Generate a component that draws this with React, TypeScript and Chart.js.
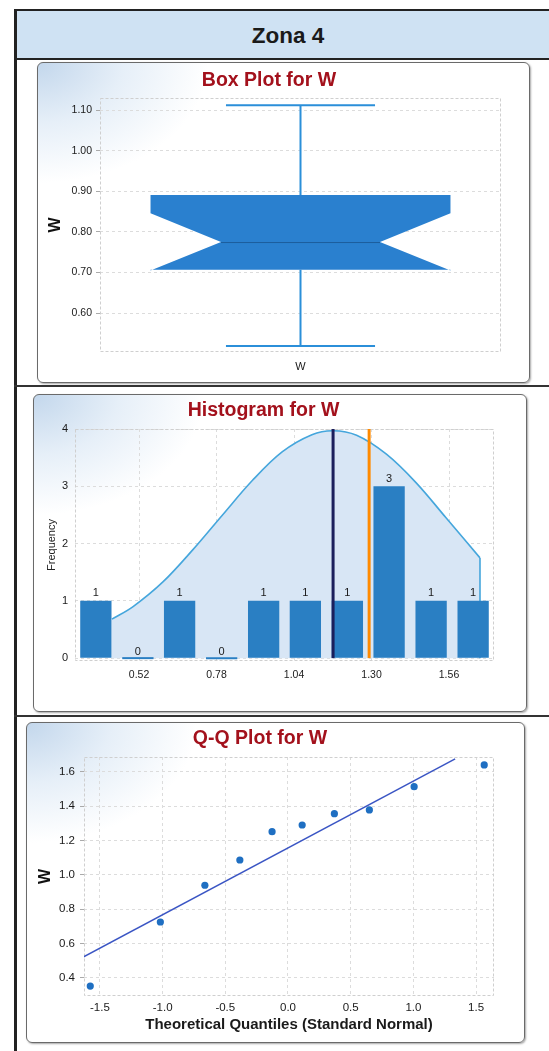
import React, { useEffect, useRef } from "react";
import { Chart, registerables } from "chart.js";

Chart.register(...registerables);

// ---------- Page ----------
const PAGE_TITLE = "Zona 4";

// ---------- Box plot data ----------
const BOX_TITLE = "Box Plot for W";
const BOX_CATEGORIES = ["W"];
const BOX_MIN = [0.519];
const BOX_Q1 = [0.707];
const BOX_MEDIAN = [0.775];
const BOX_Q3 = [0.891];
const BOX_MAX = [1.112];
const BOX_NOTCH_LOW = [0.705];
const BOX_NOTCH_HIGH = [0.846];
const BOX_Y_TICKS = [0.6, 0.7, 0.8, 0.9, 1.0, 1.1];

// ---------- Histogram data ----------
const HIST_TITLE = "Histogram for W";
const HIST_BIN_CENTERS = [0.375, 0.516, 0.656, 0.797, 0.938, 1.078, 1.219, 1.359, 1.5, 1.641];
const HIST_COUNTS = [1, 0, 1, 0, 1, 1, 1, 3, 1, 1];
const HIST_X_TICKS = [0.52, 0.78, 1.04, 1.3, 1.56];
const HIST_Y_TICKS = [0, 1, 2, 3, 4];
const HIST_CURVE_X = [0.429, 0.5, 0.6, 0.7, 0.8, 0.9, 1.0, 1.1, 1.171, 1.25, 1.35, 1.45, 1.55, 1.664];
const HIST_CURVE_Y = [0.68, 0.9, 1.33, 1.89, 2.5, 3.1, 3.6, 3.9, 3.97, 3.89, 3.56, 3.06, 2.45, 1.75];
const HIST_MEAN = [1.171];
const HIST_MEDIAN = [1.292];

// ---------- Q-Q data ----------
const QQ_TITLE = "Q-Q Plot for W";
const QQ_THEORETICAL = [-1.577, -1.018, -0.663, -0.384, -0.127, 0.113, 0.37, 0.649, 1.006, 1.565];
const QQ_SAMPLE = [0.353, 0.726, 0.94, 1.087, 1.252, 1.291, 1.357, 1.379, 1.514, 1.641];
const QQ_LINE_X = [-1.649, 1.333];
const QQ_LINE_Y = [0.516, 1.676];
const QQ_X_TICKS = [-1.5, -1.0, -0.5, 0.0, 0.5, 1.0, 1.5];
const QQ_Y_TICKS = [0.4, 0.6, 0.8, 1.0, 1.2, 1.4, 1.6];

const FONT = "'Liberation Sans', Arial, sans-serif";
const TITLE_COLOR = "#a3111c";
const TICK_COLOR = "#1a1a1a";
const GRID_COLOR = "#dcdcdc";

const framePlugin = {
  id: "frame",
  beforeDatasetsDraw(chart: any) {
    const { ctx, chartArea } = chart;
    const { left, top, right, bottom } = chartArea;
    ctx.save();
    ctx.strokeStyle = "#cfcfcf";
    ctx.lineWidth = 1;
    ctx.setLineDash([3, 2]);
    ctx.strokeRect(left + 0.5, top + 0.5, right - left - 1, bottom - top - 1);
    ctx.restore();
  },
};

const fixedTicks = (values: number[]) => (scale: any) => {
  scale.ticks = values.map((v) => ({ value: v }));
};

const titleOpts = (text: string, top: number, bottom: number) => ({
  display: true,
  text,
  color: TITLE_COLOR,
  font: { family: FONT, size: 19.5, weight: "bold" as const },
  padding: { top, bottom },
});

// ---------- Box plot ----------
const notchedBoxPlugin = {
  id: "notchedBox",
  afterDatasetsDraw(chart: any) {
    const { ctx } = chart;
    const xs = chart.scales.x;
    const ys = chart.scales.y;
    const slot = xs.width / BOX_CATEGORIES.length;
    const py = (v: number) => ys.getPixelForValue(v);
    BOX_CATEGORIES.forEach((_c, i) => {
      const cx = xs.getPixelForValue(i);
      const half = slot * 0.374;
      const notchHalf = half * 0.53;
      const capHalf = half * 0.497;
      ctx.save();
      // whiskers
      ctx.strokeStyle = "#2b8fd9";
      ctx.lineWidth = 2;
      ctx.beginPath();
      ctx.moveTo(cx, py(BOX_MAX[i]));
      ctx.lineTo(cx, py(BOX_Q3[i]));
      ctx.moveTo(cx, py(BOX_Q1[i]));
      ctx.lineTo(cx, py(BOX_MIN[i]));
      ctx.moveTo(cx - capHalf, py(BOX_MAX[i]));
      ctx.lineTo(cx + capHalf, py(BOX_MAX[i]));
      ctx.moveTo(cx - capHalf, py(BOX_MIN[i]));
      ctx.lineTo(cx + capHalf, py(BOX_MIN[i]));
      ctx.stroke();
      // notched box
      ctx.fillStyle = "#2a80cf";
      ctx.beginPath();
      ctx.moveTo(cx - half, py(BOX_Q3[i]));
      ctx.lineTo(cx + half, py(BOX_Q3[i]));
      ctx.lineTo(cx + half, py(BOX_NOTCH_HIGH[i]));
      ctx.lineTo(cx + notchHalf, py(BOX_MEDIAN[i]));
      ctx.lineTo(cx + half, py(BOX_NOTCH_LOW[i]));
      ctx.lineTo(cx + half, py(BOX_Q1[i]));
      ctx.lineTo(cx - half, py(BOX_Q1[i]));
      ctx.lineTo(cx - half, py(BOX_NOTCH_LOW[i]));
      ctx.lineTo(cx - notchHalf, py(BOX_MEDIAN[i]));
      ctx.lineTo(cx - half, py(BOX_NOTCH_HIGH[i]));
      ctx.closePath();
      ctx.fill();
      // median
      ctx.strokeStyle = "#1c5d9c";
      ctx.lineWidth = 1;
      ctx.beginPath();
      ctx.moveTo(cx - notchHalf, py(BOX_MEDIAN[i]) + 0.5);
      ctx.lineTo(cx + notchHalf, py(BOX_MEDIAN[i]) + 0.5);
      ctx.stroke();
      ctx.restore();
    });
  },
};

function BoxPlot() {
  const ref = useRef<HTMLCanvasElement>(null);
  useEffect(() => {
    const chart = new Chart(ref.current!, {
      type: "bar",
      data: { labels: BOX_CATEGORIES, datasets: [] },
      options: {
        animation: false,
        responsive: false,
        events: [],
        layout: { padding: { left: 0, right: 29, top: 0, bottom: 0 } },
        plugins: {
          legend: { display: false },
          tooltip: { enabled: false },
          title: titleOpts(BOX_TITLE, 7.3, 5.3),
        },
        scales: {
          x: {
            type: "category",
            offset: true,
            grid: { display: false, drawTicks: false },
            border: { display: false },
            ticks: { color: TICK_COLOR, padding: 8, font: { family: FONT, size: 11 } },
            afterFit: (s: any) => { s.height = 31; },
          },
          y: {
            min: 0.504,
            max: 1.13,
            afterBuildTicks: fixedTicks(BOX_Y_TICKS),
            grid: { color: GRID_COLOR, tickLength: 4, tickColor: "#aaa" },
            border: { display: false, dash: [3, 3] },
            ticks: {
              color: TICK_COLOR,
              padding: 4,
              font: { family: FONT, size: 10.5 },
              callback: (v: any) => Number(v).toFixed(2),
            },
            title: {
              display: true,
              text: "W",
              color: "#111",
              font: { family: FONT, size: 16, weight: "bold" },
              padding: { top: 9.4, bottom: 0 },
            },
            afterFit: (s: any) => { s.width = 63; },
          },
        },
      },
      plugins: [framePlugin, notchedBoxPlugin],
    } as any);
    return () => chart.destroy();
  }, []);
  return <canvas ref={ref} width={493} height={321} style={{ position: "absolute", left: 0, top: 0 }} />;
}

// ---------- Histogram ----------
const barLabelPlugin = {
  id: "barLabels",
  afterDatasetsDraw(chart: any) {
    const { ctx } = chart;
    chart.data.datasets.forEach((ds: any, di: number) => {
      if (ds.type !== "bar") return;
      const meta = chart.getDatasetMeta(di);
      ctx.save();
      ctx.fillStyle = "#1a1a1a";
      ctx.font = `11px ${FONT}`;
      ctx.textAlign = "center";
      ctx.textBaseline = "bottom";
      meta.data.forEach((el: any, i: number) => {
        ctx.fillText(String(HIST_COUNTS[i]), el.x, el.y - 2);
      });
      ctx.restore();
    });
  },
};

function Histogram() {
  const ref = useRef<HTMLCanvasElement>(null);
  useEffect(() => {
    const curve = HIST_CURVE_X.map((x, i) => ({ x, y: HIST_CURVE_Y[i] }));
    const last = curve[curve.length - 1];
    const chart = new Chart(ref.current!, {
      type: "bar",
      data: {
        datasets: [
          {
            type: "bar",
            data: HIST_BIN_CENTERS.map((x, i) => ({ x, y: HIST_COUNTS[i] })),
            backgroundColor: "#2a7fc3",
            barPercentage: 0.75,
            categoryPercentage: 1,
            minBarLength: 2,
            order: 1,
          },
          {
            type: "line",
            data: curve,
            borderColor: "#45a6dc",
            borderWidth: 1.6,
            backgroundColor: "#d8e6f5",
            fill: "origin",
            pointRadius: 0,
            tension: 0.35,
            order: 3,
          },
          {
            type: "line",
            data: [{ x: last.x, y: last.y }, { x: last.x, y: 0 }],
            borderColor: "#45a6dc",
            borderWidth: 1.6,
            pointRadius: 0,
            order: 2,
          },
          {
            type: "line",
            data: [{ x: HIST_MEAN[0], y: 0 }, { x: HIST_MEAN[0], y: 4 }],
            borderColor: "#1b1f5c",
            borderWidth: 3,
            pointRadius: 0,
            order: 0,
          },
          {
            type: "line",
            data: [{ x: HIST_MEDIAN[0], y: 0 }, { x: HIST_MEDIAN[0], y: 4 }],
            borderColor: "#ff8a00",
            borderWidth: 3,
            pointRadius: 0,
            order: 0,
          },
        ],
      },
      options: {
        animation: false,
        responsive: false,
        events: [],
        layout: { padding: { left: 0, right: 33, top: 0, bottom: 0 } },
        plugins: {
          legend: { display: false },
          tooltip: { enabled: false },
          title: titleOpts(HIST_TITLE, 5.3, 6.3),
        },
        scales: {
          x: {
            type: "linear",
            offset: false,
            min: 0.305,
            max: 1.711,
            afterBuildTicks: fixedTicks(HIST_X_TICKS),
            grid: { color: GRID_COLOR, drawTicks: false, offset: false },
            border: { display: false, dash: [3, 3] },
            ticks: {
              color: TICK_COLOR,
              padding: 8,
              font: { family: FONT, size: 10.5 },
              callback: (v: any) => Number(v).toFixed(2),
            },
            afterFit: (s: any) => { s.height = 51; },
          },
          y: {
            min: -0.05,
            max: 4,
            afterBuildTicks: fixedTicks(HIST_Y_TICKS),
            grid: { color: GRID_COLOR, drawTicks: false },
            border: { display: false, dash: [3, 3] },
            ticks: { color: TICK_COLOR, padding: 7, font: { family: FONT, size: 11 } },
            title: {
              display: true,
              text: "Frequency",
              color: "#222",
              font: { family: FONT, size: 11 },
              padding: { top: 12.4, bottom: 0 },
            },
            afterFit: (s: any) => { s.width = 42; },
          },
        },
      },
      plugins: [framePlugin, barLabelPlugin],
    } as any);
    return () => chart.destroy();
  }, []);
  return <canvas ref={ref} width={494} height={318} style={{ position: "absolute", left: 0, top: 0 }} />;
}

// ---------- Q-Q plot ----------
function QQPlot() {
  const ref = useRef<HTMLCanvasElement>(null);
  useEffect(() => {
    const chart = new Chart(ref.current!, {
      type: "scatter",
      data: {
        datasets: [
          {
            type: "scatter",
            data: QQ_THEORETICAL.map((x, i) => ({ x, y: QQ_SAMPLE[i] })),
            backgroundColor: "#1f6fc2",
            borderWidth: 0,
            pointRadius: 3.6,
            order: 0,
          },
          {
            type: "line",
            data: QQ_LINE_X.map((x, i) => ({ x, y: QQ_LINE_Y[i] })),
            borderColor: "#3a55c4",
            borderWidth: 1.5,
            pointRadius: 0,
            order: 1,
          },
        ],
      },
      options: {
        animation: false,
        responsive: false,
        events: [],
        layout: { padding: { left: 0, right: 31, top: 0, bottom: 0 } },
        plugins: {
          legend: { display: false },
          tooltip: { enabled: false },
          title: titleOpts(QQ_TITLE, 5.3, 6.3),
        },
        scales: {
          x: {
            type: "linear",
            min: -1.627,
            max: 1.643,
            afterBuildTicks: fixedTicks(QQ_X_TICKS),
            grid: { color: GRID_COLOR, drawTicks: false },
            border: { display: false, dash: [3, 3] },
            ticks: {
              color: TICK_COLOR,
              padding: 5,
              font: { family: FONT, size: 11.5 },
              callback: (v: any) => Number(v).toFixed(1),
            },
            title: {
              display: true,
              text: "Theoretical Quantiles (Standard Normal)",
              color: "#1a1a1a",
              font: { family: FONT, size: 15, weight: "bold" },
              padding: { top: 0, bottom: 9 },
            },
            afterFit: (s: any) => { s.height = 47; },
          },
          y: {
            min: 0.295,
            max: 1.687,
            afterBuildTicks: fixedTicks(QQ_Y_TICKS),
            grid: { color: GRID_COLOR, tickLength: 4, tickColor: "#aaa" },
            border: { display: false, dash: [3, 3] },
            ticks: {
              color: TICK_COLOR,
              padding: 5,
              font: { family: FONT, size: 11.5 },
              callback: (v: any) => Number(v).toFixed(1),
            },
            title: {
              display: true,
              text: "W",
              color: "#111",
              font: { family: FONT, size: 16, weight: "bold" },
              padding: { top: 9.9, bottom: 0 },
            },
            afterFit: (s: any) => { s.width = 58; },
          },
        },
      },
      plugins: [framePlugin],
    } as any);
    return () => chart.destroy();
  }, []);
  return <canvas ref={ref} width={499} height={321} style={{ position: "absolute", left: 0, top: 0 }} />;
}

const cardStyle = (left: number, top: number, width: number, height: number): React.CSSProperties => ({
  position: "absolute",
  left,
  top,
  width,
  height,
  boxSizing: "border-box",
  border: "1.5px solid #6a6a6a",
  borderRadius: 6,
  boxShadow: "1px 1px 2px rgba(0,0,0,0.35)",
  background:
    "radial-gradient(ellipse 170px 120px at 0% 0%, #c3d7ec 0%, #e6eff8 50%, #ffffff 100%)",
});

export default function App() {
  return (
    <div
      style={{
        position: "absolute",
        left: 0,
        top: 0,
        width: 549,
        height: 1051,
        overflow: "hidden",
        background: "#ffffff",
        fontFamily: FONT,
      }}
    >
      {/* header band */}
      <div
        style={{
          position: "absolute",
          left: 15,
          top: 9,
          width: 560,
          height: 51,
          boxSizing: "border-box",
          background: "#cfe2f3",
          borderTop: "2px solid #222",
          borderBottom: "2px solid #222",
        }}
      />
      <div
        style={{
          position: "absolute",
          left: 0,
          top: 21,
          width: 576,
          textAlign: "center",
          fontSize: 22.5,
          fontWeight: "bold",
          color: "#1a1a1a",
          lineHeight: "30px",
        }}
      >
        {PAGE_TITLE}
      </div>
      {/* table lines */}
      <div style={{ position: "absolute", left: 14, top: 9, width: 3, height: 1042, background: "#222" }} />
      <div style={{ position: "absolute", left: 14, top: 385, width: 540, height: 2, background: "#333" }} />
      <div style={{ position: "absolute", left: 14, top: 715, width: 540, height: 2, background: "#333" }} />

      <div style={cardStyle(37, 62, 493, 321)}>
        <div style={{ position: "absolute", left: -1.5, top: -1.5 }}>
          <BoxPlot />
        </div>
      </div>
      <div style={cardStyle(33, 394, 494, 318)}>
        <div style={{ position: "absolute", left: -1.5, top: -1.5 }}>
          <Histogram />
        </div>
      </div>
      <div style={cardStyle(26, 722, 499, 321)}>
        <div style={{ position: "absolute", left: -1.5, top: -1.5 }}>
          <QQPlot />
        </div>
      </div>
    </div>
  );
}
